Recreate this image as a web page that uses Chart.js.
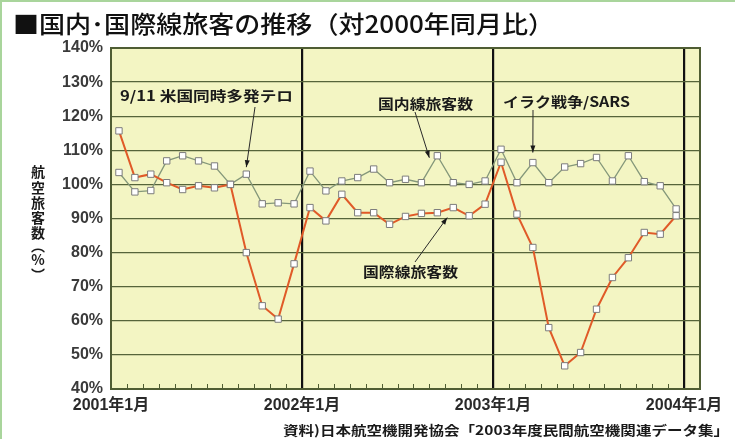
<!DOCTYPE html>
<html>
<head>
<meta charset="utf-8">
<script src="https://cdn.jsdelivr.net/npm/chart.js@4.4.0/dist/chart.umd.min.js"></script>
<style>
  html, body { margin: 0; padding: 0; background: #fff; }
  canvas { display: block; }
</style>
</head>
<body>
<canvas id="myChart" width="735" height="439"></canvas>
<script>
// monthly passengers vs. same month of 2000 (%), Jan 2001 - Dec 2003
const months = [
  '2001/1', '2001/2', '2001/3', '2001/4', '2001/5', '2001/6', '2001/7', '2001/8', '2001/9', '2001/10', '2001/11', '2001/12',
  '2002/1', '2002/2', '2002/3', '2002/4', '2002/5', '2002/6', '2002/7', '2002/8', '2002/9', '2002/10', '2002/11', '2002/12',
  '2003/1', '2003/2', '2003/3', '2003/4', '2003/5', '2003/6', '2003/7', '2003/8', '2003/9', '2003/10', '2003/11', '2003/12'
];
const domestic = [
  103.5, 97.8, 98.2, 106.9, 108.4, 106.9, 105.4, 100, 103, 94.3, 94.6, 94.3,
  103.9, 98.1, 101, 102, 104.5, 100.5, 101.5, 100.5, 108.4, 100.5, 100, 101,
  110.3, 100.5, 106.4, 100.5, 105.1, 106.1, 107.9, 101, 108.4, 100.8, 99.6, 92.8
];
const international = [
  115.7, 102, 103, 100.5, 98.5, 99.6, 99, 100, 80, 64.4, 60.5, 76.7,
  93.2, 89.3, 97.1, 91.7, 91.7, 88.3, 90.6, 91.5, 91.7, 93.2, 90.8, 94.2,
  106.5, 91.3, 81.5, 58, 46.8, 50.7, 63.4, 72.7, 78.5, 85.9, 85.4, 90.8
];
const yearLabels = ['2001年1月', '2002年1月', '2003年1月', '2004年1月'];

const FONT = "'Liberation Sans', 'Noto Sans CJK JP', sans-serif";
const JP = "'Noto Sans CJK JP', sans-serif";

// text squeezed/stretched to a given width
function fitText(ctx, text, x, y, width, align) {
  const w = ctx.measureText(text).width;
  ctx.save();
  ctx.translate(align === 'right' ? x - width : x, y);
  ctx.scale(width / w, 1);
  ctx.textAlign = 'left';
  ctx.fillText(text, 0, 0);
  ctx.restore();
}

function arrow(ctx, x1, y1, x2, y2) {
  const ang = Math.atan2(y2 - y1, x2 - x1);
  ctx.beginPath();
  ctx.moveTo(x1, y1);
  ctx.lineTo(x2, y2);
  ctx.stroke();
  ctx.beginPath();
  ctx.moveTo(x2, y2);
  ctx.lineTo(x2 - 7 * Math.cos(ang) + 2.5 * Math.sin(ang), y2 - 7 * Math.sin(ang) - 2.5 * Math.cos(ang));
  ctx.lineTo(x2 - 7 * Math.cos(ang) - 2.5 * Math.sin(ang), y2 - 7 * Math.sin(ang) + 2.5 * Math.cos(ang));
  ctx.closePath();
  ctx.fill();
}

const paper = {
  id: 'paper',
  beforeDraw(chart) {
    const { ctx, chartArea: a } = chart;
    ctx.save();
    ctx.fillStyle = '#ffffff';
    ctx.fillRect(0, 0, chart.width, chart.height);
    ctx.fillStyle = '#f3f5c3';
    ctx.fillRect(a.left, a.top, a.right - a.left, a.bottom - a.top);
    // light green frame of the page
    ctx.strokeStyle = '#a9d59c';
    ctx.lineWidth = 2;
    ctx.beginPath();
    ctx.moveTo(1, chart.height);
    ctx.lineTo(1, 1);
    ctx.lineTo(chart.width, 1);
    ctx.stroke();
    ctx.restore();
  },
  beforeDatasetsDraw(chart) {
    const { ctx, chartArea: a, scales: { x } } = chart;
    ctx.save();
    ctx.strokeStyle = '#4f5d33';
    ctx.lineWidth = 1;
    ctx.beginPath();
    for (let m = 1; m < months.length; m++) {
      if (m % 12 === 0) continue;
      const px = Math.round(x.getPixelForValue(m)) + 0.5;
      ctx.moveTo(px, a.bottom);
      ctx.lineTo(px, a.bottom - 5);
    }
    ctx.stroke();
    ctx.lineWidth = 2;
    ctx.strokeRect(a.left, a.top, a.right - a.left, a.bottom - a.top);
    ctx.restore();
  }
};

const notes = {
  id: 'notes',
  afterDraw(chart) {
    const { ctx, scales: { x, y } } = chart;
    const pt = (arr, i) => [x.getPixelForValue(i + 0.5), y.getPixelForValue(arr[i])];
    ctx.save();
    ctx.fillStyle = '#1a1a1a';
    ctx.textBaseline = 'middle';

    // title
    ctx.fillStyle = '#111111';
    ctx.font = '500 24px ' + JP;
    fitText(ctx, '■国内･国際線旅客の推移（対2000年同月比）', 13, 24, 541);

    // vertical axis title
    ctx.fillStyle = '#1a1a1a';
    ctx.font = 'bold 14px ' + JP;
    ctx.textAlign = 'center';
    const chars = ['航', '空', '旅', '客', '数', '︵', '%', '︶'];
    const ys = [172, 187.5, 202.5, 217.5, 233, 246, 260, 275];
    chars.forEach((c, k) => ctx.fillText(c, 38, ys[k]));

    // source
    ctx.font = 'bold 13px ' + JP;
    fitText(ctx, '資料)日本航空機開発協会「2003年度民間航空機関連データ集」', 729, 430, 446, 'right');

    // annotations
    ctx.font = 'bold 14px ' + JP;
    fitText(ctx, '9/11 米国同時多発テロ', 120, 96, 173);
    fitText(ctx, '国内線旅客数', 378, 103.5, 95);
    fitText(ctx, 'イラク戦争/SARS', 503, 101.5, 127);
    fitText(ctx, '国際線旅客数', 363, 272, 95);

    ctx.strokeStyle = '#2a2a2a';
    ctx.lineWidth = 1;
    let p = pt(domestic, 8);
    arrow(ctx, 255, 107, p[0], p[1] - 7);
    p = pt(domestic, 20);
    arrow(ctx, 415, 112, p[0] - 8, p[1] + 2);
    p = pt(domestic, 26);
    arrow(ctx, 533, 110, p[0], p[1] - 10);
    p = pt(international, 21);
    arrow(ctx, 415, 262, p[0] - 6, p[1] + 10);
    ctx.restore();
  }
};

const pointStyle = {
  pointStyle: 'rect',
  pointRadius: 4.5,
  pointBackgroundColor: '#ffffff',
  pointBorderColor: '#7c7c7c',
  pointBorderWidth: 1,
  tension: 0
};

const config = {
  type: 'line',
  data: {
    datasets: [
      {
        label: '国際線旅客数',
        data: international.map((v, i) => ({ x: i + 0.5, y: v })),
        borderColor: '#e05a28',
        borderWidth: 2,
        ...pointStyle
      },
      {
        label: '国内線旅客数',
        data: domestic.map((v, i) => ({ x: i + 0.5, y: v })),
        borderColor: '#84977a',
        borderWidth: 1.3,
        ...pointStyle
      }
    ]
  },
  options: {
    responsive: false,
    animation: false,
    devicePixelRatio: 1,
    layout: { padding: { top: 48, right: 35, left: 0, bottom: 0 } },
    plugins: {
      legend: { display: false },
      tooltip: { enabled: false }
    },
    scales: {
      x: {
        type: 'linear',
        min: 0,
        max: 37,
        afterBuildTicks: (scale) => {
          scale.ticks = yearLabels.map((l, k) => ({ value: k * 12 }));
        },
        afterFit: (scale) => { scale.height = 50; },
        grid: {
          color: (c) => (c.tick && c.tick.value === 0 ? 'rgba(0,0,0,0)' : '#111111'),
          lineWidth: 2.2,
          drawTicks: false
        },
        border: { display: false },
        ticks: {
          padding: 7,
          maxRotation: 0,
          autoSkip: false,
          color: '#2a2a2a',
          font: { family: FONT, size: 16, weight: 'bold' },
          callback: (v) => yearLabels[v / 12]
        }
      },
      y: {
        min: 40,
        max: 140,
        afterFit: (scale) => { scale.width = 111; },
        grid: { color: '#56643a', lineWidth: 1.3, drawTicks: false },
        border: { display: false },
        ticks: {
          stepSize: 10,
          padding: 8,
          color: '#3a3a3a',
          font: { family: FONT, size: 16, weight: 'bold' },
          callback: (v) => v + '%'
        }
      }
    }
  },
  plugins: [paper, notes]
};

const myChart = new Chart('myChart', config);
</script>
</body>
</html>
